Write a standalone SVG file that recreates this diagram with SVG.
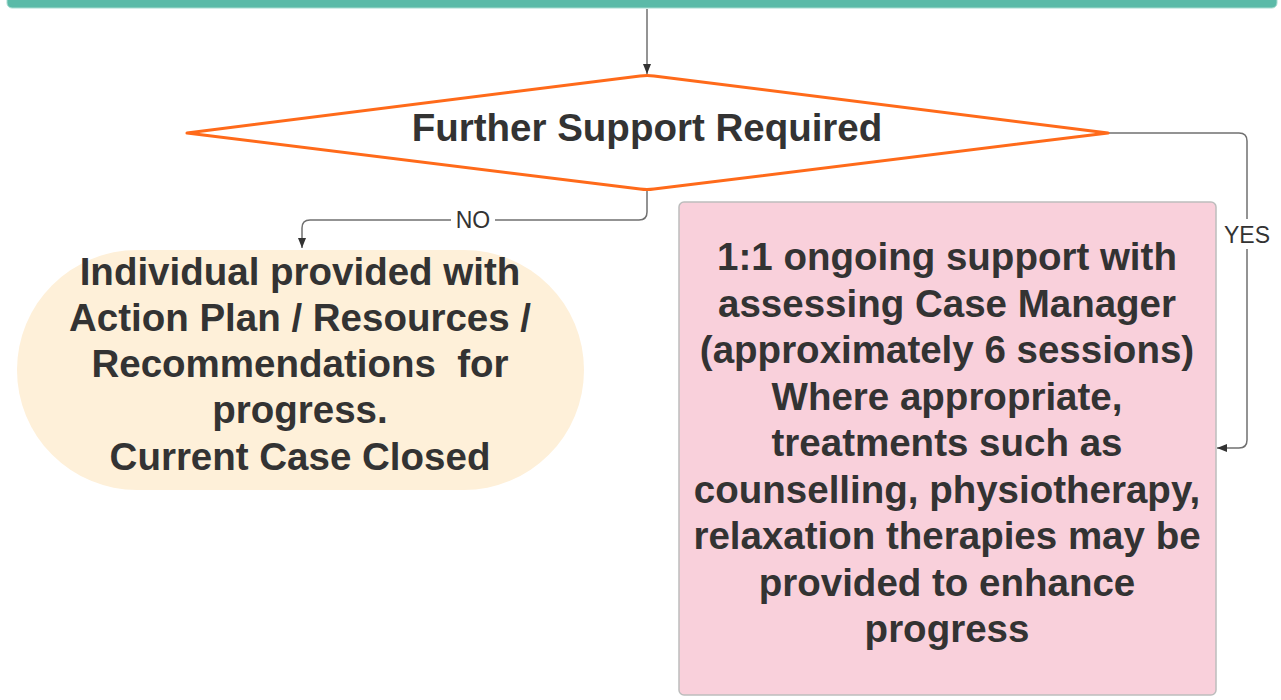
<svg xmlns="http://www.w3.org/2000/svg" width="1281" height="700" viewBox="0 0 1281 700">
<defs>
<style>
.t{font-family:"Liberation Sans",Arial,sans-serif;font-weight:bold;fill:#333333;text-anchor:middle}
.lbl{font-family:"Liberation Sans",Arial,sans-serif;fill:#333333;text-anchor:middle;font-size:23px}
.c{fill:none;stroke:#707070;stroke-width:1.5}
</style>
<marker id="ah" viewBox="0 0 10 10" refX="10" refY="5" markerWidth="10" markerHeight="10" markerUnits="userSpaceOnUse" orient="auto">
<path d="M0,1 L10,5 L0,9 Z" fill="#333333"/>
</marker>
</defs>
<g id="top-bar">
<rect x="7" y="-20" width="1270" height="28" rx="5" fill="#5BBAA8" stroke="#A8DCD1" stroke-width="1"/>
</g>
<g id="connectors">
<path class="c" d="M647,9 L647,74" stroke="#A0A0A0" marker-end="url(#ah)"/>
<path class="c" d="M647,190 L647,212 Q647,220 639,220 L310,220 Q302,220 302,228 L302,248" marker-end="url(#ah)"/>
<rect x="451" y="206" width="44" height="28" fill="#ffffff"/>
<text class="lbl" x="473" y="228">NO</text>
<path class="c" d="M1108,133 L1239,133 Q1247,133 1247,141 L1247,440 Q1247,448 1239,448 L1217,448" marker-end="url(#ah)"/>
<rect x="1220" y="219" width="54" height="30" fill="#ffffff"/>
<text class="lbl" x="1247" y="243">YES</text>
</g>
<g id="decision">
<path d="M187,133 L640,76 Q647,75 654,76 L1108,133 L654,189 Q647,190 640,189 Z" fill="#ffffff" stroke="#FF6A1A" stroke-width="3" stroke-linejoin="round"/>
<text class="t" x="647" y="141" font-size="38.5">Further Support Required</text>
</g>
<g id="closed">
<rect x="17" y="250" width="567" height="240" rx="120" fill="#FEF0D9"/>
<text class="t" font-size="38.5" xml:space="preserve"><tspan x="300" y="285">Individual provided with</tspan><tspan x="300" y="331">Action Plan / Resources /</tspan><tspan x="300" y="377">Recommendations  for</tspan><tspan x="300" y="423">progress.</tspan><tspan x="300" y="470">Current Case Closed</tspan></text>
</g>
<g id="ongoing">
<rect x="679" y="202" width="537" height="493" rx="5" fill="#F9D0DB" stroke="#BDBDBD" stroke-width="1.5"/>
<text class="t" font-size="38.5"><tspan x="947" y="270">1:1 ongoing support with</tspan><tspan x="947" y="316.5">assessing Case Manager</tspan><tspan x="947" y="363">(approximately 6 sessions)</tspan><tspan x="947" y="409.5">Where appropriate,</tspan><tspan x="947" y="456">treatments such as</tspan><tspan x="947" y="502.5">counselling, physiotherapy,</tspan><tspan x="947" y="549">relaxation therapies may be</tspan><tspan x="947" y="595.5">provided to enhance</tspan><tspan x="947" y="642">progress</tspan></text>
</g>
</svg>
